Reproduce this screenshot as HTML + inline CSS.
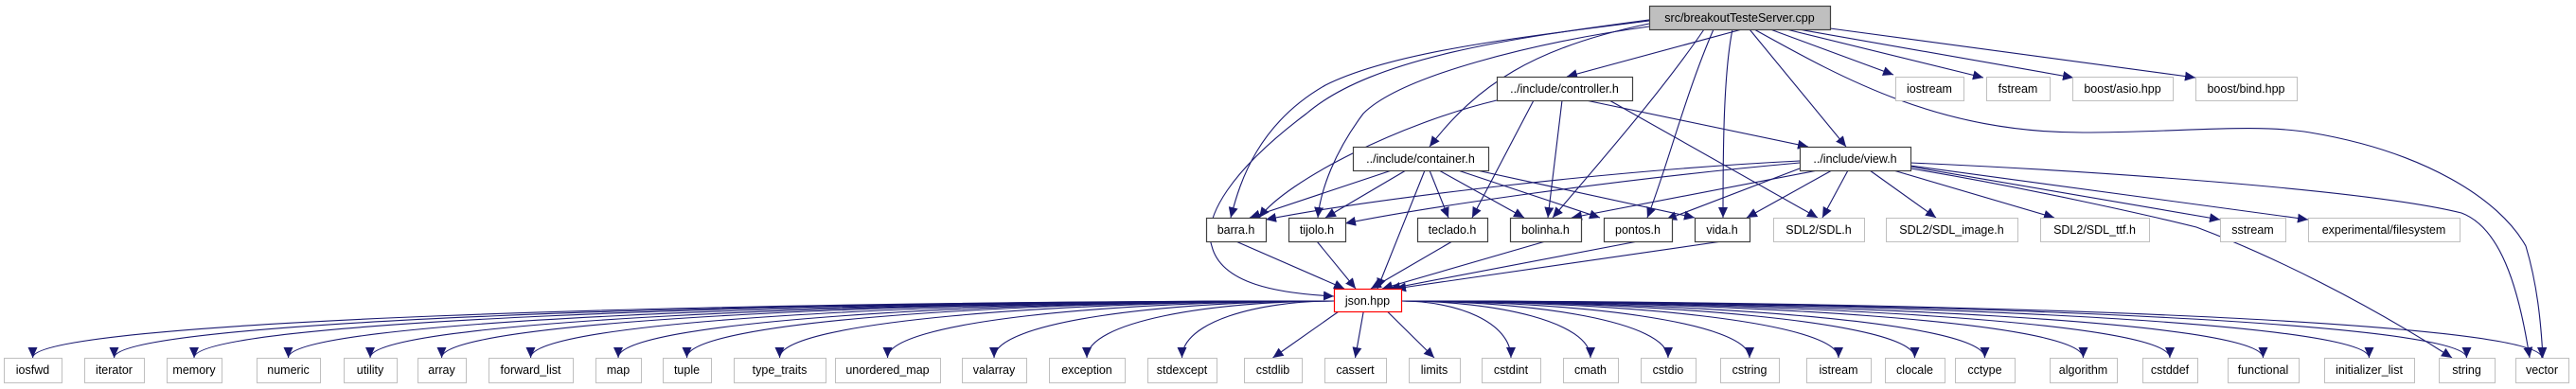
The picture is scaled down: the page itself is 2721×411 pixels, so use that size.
<!DOCTYPE html>
<html><head><meta charset="utf-8"><style>
html,body{margin:0;padding:0;background:#fff;}
svg{display:block;}
text{font-family:"Liberation Sans",Helvetica,sans-serif;font-size:12.5px;fill:#000;text-anchor:middle;}
</style></head><body>
<svg id="g" width="2721" height="411" viewBox="0 0 2721 411" xmlns="http://www.w3.org/2000/svg">
<defs><marker id="a" markerUnits="userSpaceOnUse" markerWidth="12" markerHeight="10" refX="11" refY="5" orient="auto"><path d="M0,0 L11,5 L0,10 z" fill="#191970"/></marker></defs>
<g id="edges" fill="none" stroke="#191970" stroke-width="1.1"></g>
<g id="nodes"></g>
</svg>
<script>
var N={
src:[1742,1933,6,31,'src/breakoutTesteServer.cpp','s'],
controller:[1581,1724,81,106,'../include/controller.h','d'],
iostream:[2002,2074,81,106,'iostream','e'],
fstream:[2098,2165,81,106,'fstream','e'],
asio:[2189,2295,81,106,'boost/asio.hpp','e'],
bind:[2319,2426,81,106,'boost/bind.hpp','e'],
container:[1429,1572,155,180,'../include/container.h','d'],
view:[1901,2018,155,180,'../include/view.h','d'],
barra:[1274,1337,230,255,'barra.h','d'],
tijolo:[1361,1421,230,255,'tijolo.h','d'],
teclado:[1497,1571,230,255,'teclado.h','d'],
bolinha:[1595,1670,230,255,'bolinha.h','d'],
pontos:[1694,1766,230,255,'pontos.h','d'],
vida:[1790,1848,230,255,'vida.h','d'],
sdl:[1873,1969,230,255,'SDL2/SDL.h','e'],
sdlimg:[1992,2131,230,255,'SDL2/SDL_image.h','e'],
sdlttf:[2155,2270,230,255,'SDL2/SDL_ttf.h','e'],
sstream:[2345,2414,230,255,'sstream','e'],
fs:[2438,2598,230,255,'experimental/filesystem','e'],
json:[1409,1480,305,329,'json.hpp','j']
};
var B=[['iosfwd',4,65],['iterator',89,152],['memory',176,234],['numeric',271,338],['utility',363,419],['array',441,492],['forward_list',516,605],['map',629,677],['tuple',700,751],['type_traits',775,872],['unordered_map',882,993],['valarray',1016,1084],['exception',1108,1188],['stdexcept',1212,1285],['cstdlib',1314,1375],['cassert',1399,1464],['limits',1488,1542],['cstdint',1565,1627],['cmath',1651,1709],['cstdio',1733,1791],['cstring',1817,1879],['istream',1908,1976],['clocale',1991,2054],['cctype',2065,2128],['algorithm',2165,2236],['cstddef',2263,2321],['functional',2353,2428],['initializer_list',2455,2550],['string',2576,2635],['vector',2657,2713]];
B.forEach(function(b){N[b[0]]=[b[1],b[2],378,404,b[0],'e'];});
var E=document.getElementById('edges'),G=document.getElementById('nodes'),ns='http://www.w3.org/2000/svg';
function p(d){var e=document.createElementNS(ns,'path');e.setAttribute('d',d);e.setAttribute('marker-end','url(#a)');E.appendChild(e);}
function cx(n){return (N[n][0]+N[n][1])/2;}
// src edges
p('M1840,31 L1655,81');p('M1870,31 L2000,79');p('M1887,31 L2095,82');p('M1900,31 L2190,82');
p('M1933,30 L2319,82');p('M1848,31 L1950,155');
p('M1742,25 C1620,50 1560,90 1510,155');
p('M1742,22 C1600,40 1470,55 1400,90 C1330,130 1310,190 1300,230');
p('M1742,28 C1620,45 1480,80 1440,120 C1410,160 1395,200 1392,230');
p('M1800,31 C1760,90 1700,160 1640,230');
p('M1830,31 C1820,80 1820,170 1820,230');
p('M1810,31 C1780,100 1760,180 1740,230');
p('M1742,21 C1600,40 1450,60 1380,120 C1300,180 1270,230 1280,260 C1290,300 1350,310 1409,313');
p('M1853,31 C1950,85 2050,140 2200,140 C2300,140 2380,130 2440,140 C2560,160 2640,210 2668,260 C2680,300 2684,340 2686,378');
// controller
p('M1620,106 L1555,230');p('M1650,106 L1635,230');p('M1675,106 L1910,155');
p('M1700,106 L1920,230');p('M1581,106 C1480,130 1360,190 1330,230');
// container
p('M1470,180 L1320,230');p('M1485,180 L1400,230');p('M1505,180 L1455,305');p('M1510,180 L1530,230');
p('M1520,180 L1610,230');p('M1540,180 L1690,230');p('M1560,180 L1790,230');
// view
p('M1901,170 C1700,180 1450,210 1337,232');p('M1901,172 C1700,190 1500,220 1421,236');
p('M1920,180 L1660,230');p('M1901,178 L1760,232');p('M1935,180 L1845,230');p('M1952,180 L1925,230');
p('M1975,180 L2045,230');p('M2000,180 L2170,230');p('M2018,176 L2345,232');p('M2018,175 L2438,232');
p('M2018,178 C2150,200 2280,230 2320,240 C2400,270 2500,320 2590,378');
p('M2018,172 C2200,180 2500,200 2600,225 C2640,240 2660,300 2672,378');
// mid -> json
['barra','tijolo','teclado','bolinha','pontos','vida'].forEach(function(t,i){var tx=[1420,1432,1448,1460,1468,1474][i];p('M'+cx(t)+',255 L'+tx+',305');});
// json -> bottom
B.forEach(function(b){var t=b[0],tx=cx(t);
 if(Math.abs(tx-1444)<140)p('M'+(1444+(tx-1444)*0.3)+',329 L'+tx+',378');
 else{var dx=tx<1444?1409:1480;p('M'+dx+',318 C'+(dx+(tx-dx)*0.5)+',318 '+tx+',340 '+tx+',378');}});
// nodes
for(var k in N){var n=N[k];var r=document.createElementNS(ns,'rect');r.setAttribute('x',n[0]+.5);r.setAttribute('y',n[2]+.5);r.setAttribute('width',n[1]-n[0]);r.setAttribute('height',n[3]-n[2]);
 var st={s:['#bfbfbf','#404040'],d:['#fff','#404040'],e:['#fff','#bfbfbf'],j:['#fff','#ff0000']}[n[5]];
 r.setAttribute('fill',st[0]);r.setAttribute('stroke',st[1]);r.setAttribute('stroke-width',n[5]=='e'?1:1.2);G.appendChild(r);
 var t=document.createElementNS(ns,'text');t.setAttribute('x',(n[0]+n[1])/2);t.setAttribute('y',n[2]+17);t.textContent=n[4];
 var w=n[1]-n[0]-8;G.appendChild(t);if(t.getComputedTextLength&&t.getComputedTextLength()>w){t.setAttribute('textLength',w);t.setAttribute('lengthAdjust','spacingAndGlyphs');}}
</script>
</body></html>
